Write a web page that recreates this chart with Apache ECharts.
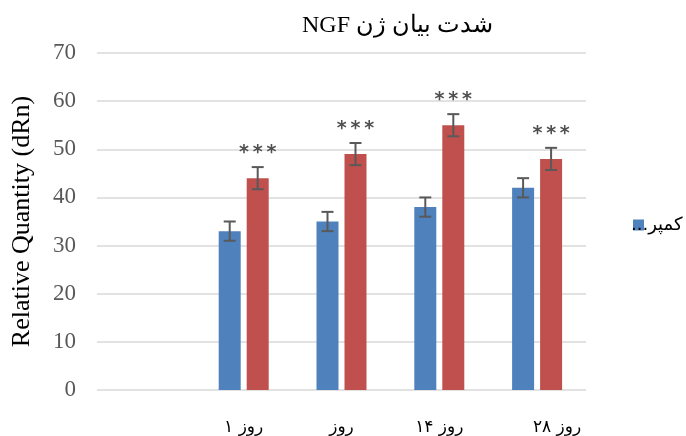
<!DOCTYPE html>
<html>
<head>
<meta charset="utf-8">
<script src="https://cdn.jsdelivr.net/npm/echarts@6/dist/echarts.min.js"></script>
<style>html,body{margin:0;padding:0;background:#fff}#c{width:686px;height:436px}</style>
</head>
<body>
<div id="c"></div>
<script>
// ---- data ----
const chartTitle = 'شدت بیان ژن NGF';
const yAxisName = 'Relative Quantity (dRn)';
const categories = ['', 'روز ۱', 'روز', 'روز ۱۴', 'روز ۲۸'];
const seriesNames = ['کمپر...', 'درمان'];
const blueValues = [null, 33, 35, 38, 42];
const redValues = [null, 44, 49, 55, 48];
const blueErrors = [null, 2, 2, 2, 2];
const redErrors = [null, 2.3, 2.3, 2.3, 2.3];
const stars = ['', '***', '***', '***', '***'];

// ---- style ----
const RLE = '\u202B', PDF = '\u202C';
const rtl = s => RLE + s + PDF;
const BAR_W = 22, BAR_GAP = 6;
const serif = '"Liberation Serif", "DejaVu Serif", serif';
const persian = '"DejaVu Sans", "Liberation Serif", sans-serif';

function errData(vals, errs, st) {
  const out = [];
  vals.forEach((v, i) => { if (v != null) out.push([i, v, errs[i], st ? st[i] : '']); });
  return out;
}
function makeErr(side) {
  return function (params, api) {
    const i = api.value(0), v = api.value(1), e = api.value(2);
    const off = side * (BAR_W + BAR_GAP) / 2;
    const top = api.coord([i, v + e]);
    const bot = api.coord([i, v - e]);
    const x = top[0] + off;
    const cap = 6;
    const st = { stroke: '#595959', lineWidth: 2 };
    const children = [
      { type: 'line', shape: { x1: x, y1: top[1], x2: x, y2: bot[1] }, style: st },
      { type: 'line', shape: { x1: x - cap, y1: top[1], x2: x + cap, y2: top[1] }, style: st },
      { type: 'line', shape: { x1: x - cap, y1: bot[1], x2: x + cap, y2: bot[1] }, style: st }
    ];
    const s = api.value(3);
    if (s) {
      const txt = String(s).split('').join('\u2009');
      children.push({ type: 'text', style: { text: txt, x: x, y: top[1] - 14, align: 'center', verticalAlign: 'middle',
        fill: '#505050', font: 'bold 19px "DejaVu Sans", sans-serif' } });
    }
    return { type: 'group', children };
  };
}

const chart = echarts.init(document.getElementById('c'), null, { renderer: 'canvas' });
chart.setOption({
  animation: false,
  backgroundColor: '#fff',
  title: {
    text: rtl(chartTitle), left: 297, top: 9,
    textStyle: { fontFamily: serif, fontSize: 24, fontWeight: 'normal', color: '#000' }
  },
  legend: {
    data: [seriesNames[0]], left: 626, top: 211, itemWidth: 11, itemHeight: 11, icon: 'rect',
    formatter: n => rtl(n),
    textStyle: { fontFamily: persian, fontSize: 18, color: '#000', padding: [0, 0, 0, -18] }
  },
  grid: { left: 97, right: 100, top: 53, bottom: 46, containLabel: false },
  xAxis: {
    type: 'category', data: categories,
    axisLine: { show: false }, axisTick: { show: false },
    axisLabel: {
      interval: 0, margin: 29, color: '#000', fontFamily: persian, fontSize: 17,
      formatter: (v, i) => i === 4 ? '{s|' + rtl(v) + '}' : rtl(v),
      rich: { s: { padding: [0, 0, 0, 40], fontFamily: persian, fontSize: 17, color: '#000' } }
    }
  },
  yAxis: {
    type: 'value', min: 0, max: 70, interval: 10,
    name: yAxisName, nameLocation: 'middle', nameGap: 62,
    nameTextStyle: { fontFamily: serif, fontSize: 26, color: '#000' },
    axisLine: { show: false }, axisTick: { show: false },
    axisLabel: { margin: 21, color: '#595959', fontFamily: serif, fontSize: 23 },
    splitLine: { lineStyle: { color: '#D9D9D9', width: 1.5 } }
  },
  series: [
    { name: seriesNames[0], type: 'bar', data: blueValues, barWidth: BAR_W, barGap: (BAR_GAP / BAR_W * 100) + '%',
      itemStyle: { color: '#4F81BD' } },
    { name: seriesNames[1], type: 'bar', data: redValues, barWidth: BAR_W,
      itemStyle: { color: '#C0504D' } },
    { type: 'custom', renderItem: makeErr(-1), data: errData(blueValues, blueErrors), z: 5, silent: true },
    { type: 'custom', renderItem: makeErr(1), data: errData(redValues, redErrors, stars), z: 5, silent: true }
  ]
});
</script>
</body>
</html>
